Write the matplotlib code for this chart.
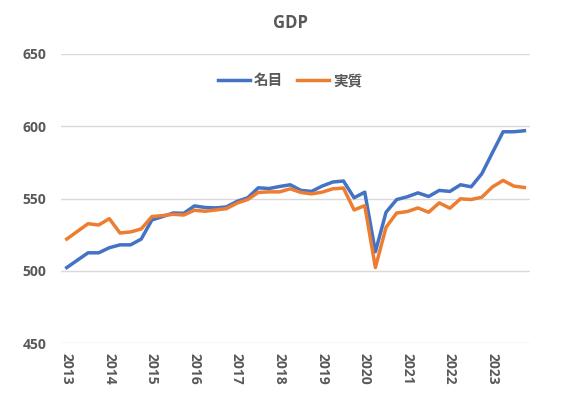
import numpy as np
import matplotlib
matplotlib.use("Agg")
import matplotlib.pyplot as plt

plt.rcParams['font.family'] = ['Open Sans', 'Noto Sans CJK JP', 'DejaVu Sans']

# quarterly, 2013Q1 .. 2023Q4 (trillion yen)
years = list(range(2013, 2024))
quarters = [f"{y}Q{q}" for y in years for q in range(1, 5)]

nominal = [502.3, 507.4, 512.5, 512.5, 516.0, 518.0, 518.0, 522.0,
           535.2, 537.5, 540.0, 539.8, 544.9, 543.8, 543.5, 544.2,
           548.0, 550.5, 557.4, 556.9, 558.3, 559.5, 555.6, 554.9,
           558.6, 561.4, 562.1, 550.5, 554.4, 513.2, 540.5, 549.3,
           551.2, 553.9, 551.4, 555.6, 554.9, 559.5, 558.1, 567.1,
           581.7, 596.1, 596.1, 596.8]
real = [522.0, 527.3, 532.6, 531.7, 536.1, 526.2, 526.9, 529.0,
        537.5, 538.2, 539.1, 538.6, 541.9, 541.2, 542.1, 543.0,
        546.8, 549.3, 554.2, 554.6, 554.6, 556.7, 554.2, 553.2,
        554.4, 556.7, 557.2, 542.1, 545.1, 502.3, 530.1, 540.0,
        541.0, 543.5, 540.5, 547.0, 543.3, 549.8, 549.3, 550.9,
        558.0, 562.5, 558.6, 557.6]

text_color = '#595959'

fig = plt.figure(figsize=(5.64, 4.07), dpi=100)
ax = fig.add_axes([0.1089, 0.1565, 0.8303, 0.7115])

x = np.arange(len(quarters))
ax.plot(x, nominal, color='#4472C4', lw=2.5, label='名目', solid_joinstyle='round')
ax.plot(x, real, color='#ED7D31', lw=2.5, label='実質', solid_joinstyle='round')

ax.set_xlim(-0.5, len(quarters) - 0.5)
ax.set_ylim(450, 650)
ax.set_yticks([450, 500, 550, 600, 650])
ax.set_xticks(x[::4])
ax.set_xticklabels([str(y) for y in years], rotation=270, va='top', ha='center')

for s in ax.spines.values():
    s.set_visible(False)
ax.grid(axis='y', color='#D9D9D9', lw=1)
ax.set_axisbelow(True)
ax.tick_params(length=0, labelsize=10, labelcolor=text_color)
ax.tick_params(axis='y', pad=11)
ax.tick_params(axis='x', pad=7)
for lab in ax.get_xticklabels() + ax.get_yticklabels():
    lab.set_fontweight('bold')

fig.text(290 / 564, 1 - 23 / 407, 'GDP', ha='center', va='center',
         fontsize=12, fontweight='bold', color=text_color)

leg = ax.legend(loc='center', bbox_to_anchor=(290 / 564, 1 - 81 / 407),
                bbox_transform=fig.transFigure, ncol=2, frameon=False,
                handlelength=2.2, handletextpad=0.25, columnspacing=1.0,
                prop={'size': 10.5, 'weight': 'bold'})
for t in leg.get_texts():
    t.set_color(text_color)

fig.savefig('out.png', dpi=100)
